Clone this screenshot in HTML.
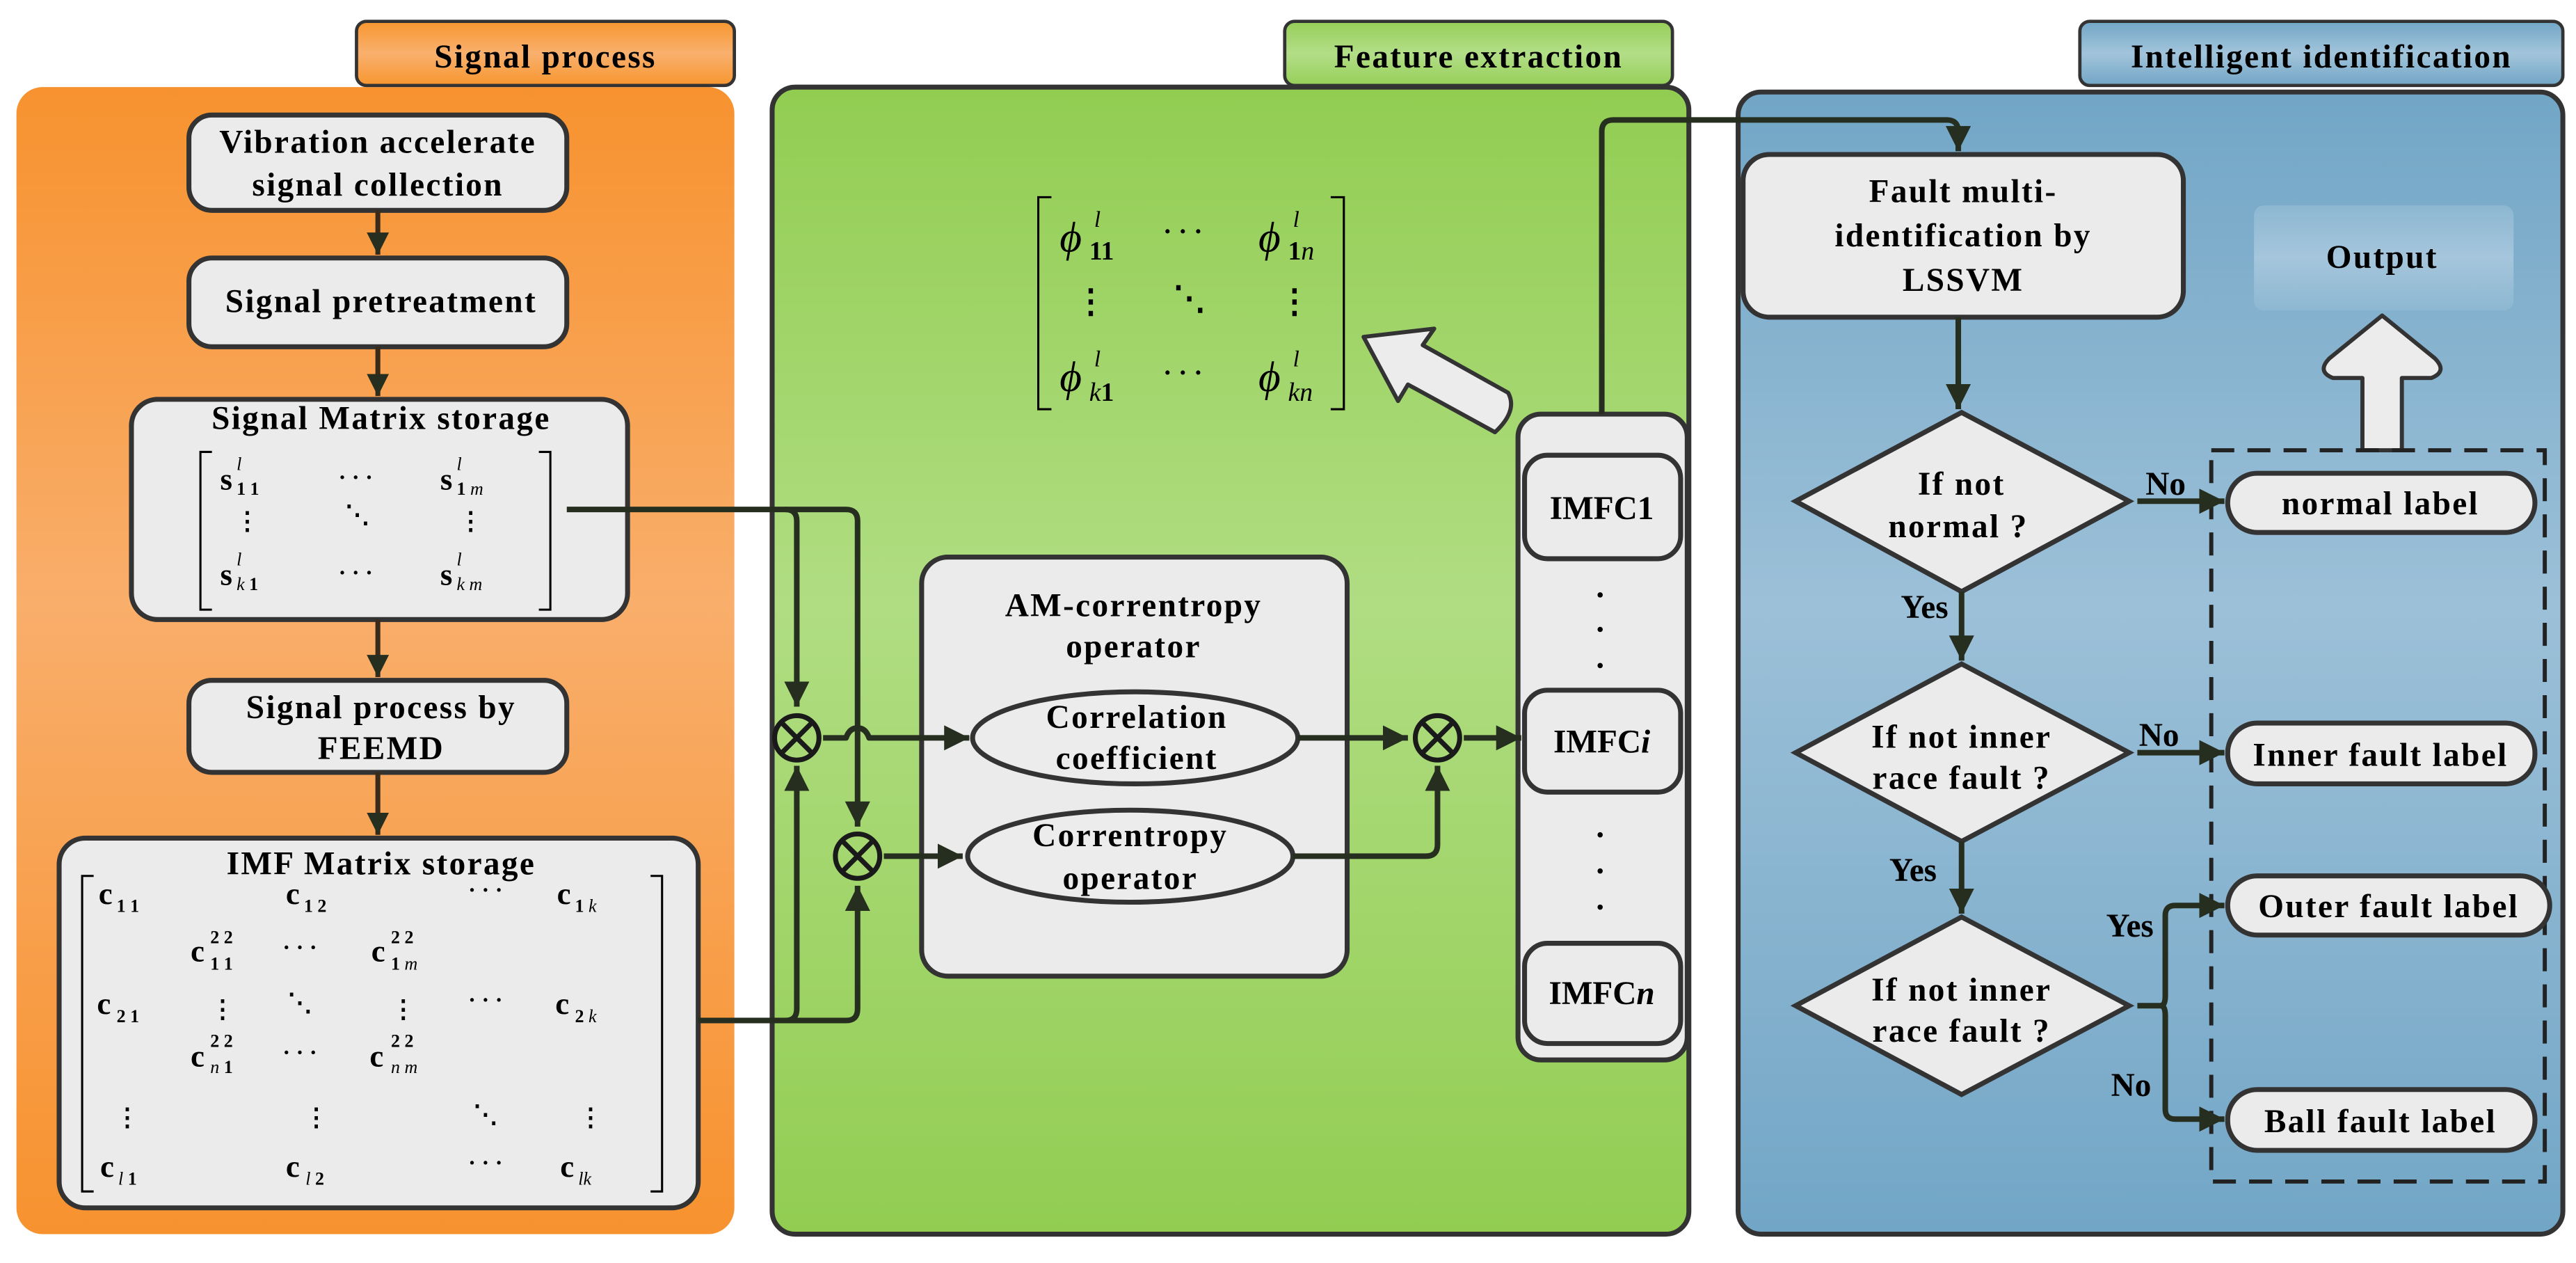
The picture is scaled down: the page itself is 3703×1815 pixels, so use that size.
<!DOCTYPE html>
<html><head><meta charset="utf-8"><style>
html,body{margin:0;padding:0;background:#fff;}
svg{display:block;font-family:"Liberation Serif","Times New Roman",serif;}
svg text{font-family:"Liberation Serif","Times New Roman",serif;font-weight:bold;fill:#000;}
svg .i{font-style:italic;font-weight:normal;}
</style></head><body>
<svg width="3703" height="1815" viewBox="0 0 1568 768.55" preserveAspectRatio="none" xmlns="http://www.w3.org/2000/svg" font-family="Liberation Serif, serif">
<defs>
<linearGradient id="og" x1="0" y1="0" x2="0" y2="1">
<stop offset="0" stop-color="#f7922f"/><stop offset="0.45" stop-color="#f9ae6b"/><stop offset="1" stop-color="#f7922f"/></linearGradient>
<linearGradient id="otab" x1="0" y1="0" x2="0" y2="1">
<stop offset="0" stop-color="#f7962f"/><stop offset="0.5" stop-color="#f9b06e"/><stop offset="1" stop-color="#f7962f"/></linearGradient>
<linearGradient id="gg" x1="0" y1="0" x2="0" y2="1">
<stop offset="0" stop-color="#92cd52"/><stop offset="0.45" stop-color="#b0dd82"/><stop offset="1" stop-color="#92cd52"/></linearGradient>
<linearGradient id="gtab" x1="0" y1="0" x2="0" y2="1">
<stop offset="0" stop-color="#96cf58"/><stop offset="0.5" stop-color="#b3de88"/><stop offset="1" stop-color="#96cf58"/></linearGradient>
<linearGradient id="bg" x1="0" y1="0" x2="0" y2="1">
<stop offset="0" stop-color="#72a6c6"/><stop offset="0.45" stop-color="#9cc0d8"/><stop offset="1" stop-color="#72a6c6"/></linearGradient>
<linearGradient id="btab" x1="0" y1="0" x2="0" y2="1">
<stop offset="0" stop-color="#72a6c6"/><stop offset="0.5" stop-color="#a2c4db"/><stop offset="1" stop-color="#72a6c6"/></linearGradient>
<linearGradient id="outg" x1="0" y1="0" x2="0" y2="1">
<stop offset="0" stop-color="#8db7d2"/><stop offset="0.5" stop-color="#a5c6dc"/><stop offset="1" stop-color="#8db7d2"/></linearGradient>
<marker id="ar" viewBox="0 0 10 10" refX="10" refY="5" markerWidth="4.5" markerHeight="4.5" orient="auto" markerUnits="strokeWidth">
<path d="M0,0 L10,5 L0,10 z" fill="#262e1f"/></marker>
</defs>

<rect x="10" y="53" width="437" height="698" rx="16" fill="url(#og)"/>
<rect x="217" y="13" width="230" height="39" rx="6" fill="url(#otab)" stroke="#333" stroke-width="2"/>
<text x="332" y="41" font-size="20" text-anchor="middle" letter-spacing="1">Signal process</text>

<rect x="470" y="53" width="558" height="698" rx="14" fill="url(#gg)" stroke="#333" stroke-width="3"/>
<rect x="782" y="13" width="236" height="39" rx="6" fill="url(#gtab)" stroke="#333" stroke-width="2"/>
<text x="900" y="41" font-size="20" text-anchor="middle" letter-spacing="1">Feature extraction</text>

<rect x="1058" y="56" width="502" height="695" rx="14" fill="url(#bg)" stroke="#333" stroke-width="3"/>
<rect x="1266" y="13" width="294" height="39" rx="6" fill="url(#btab)" stroke="#333" stroke-width="2"/>
<text x="1413" y="41" font-size="20" text-anchor="middle" letter-spacing="1">Intelligent identification</text>

<g fill="#ebebeb" stroke="#333" stroke-width="3">
<rect x="115" y="70" width="230" height="58" rx="14"/>
<rect x="115" y="157" width="230" height="54" rx="14"/>
<rect x="80" y="243" width="302" height="134" rx="16"/>
<rect x="115" y="414" width="230" height="56" rx="14"/>
<rect x="36" y="510" width="389" height="225" rx="16"/>
</g>
<text x="230" y="93" font-size="20" text-anchor="middle" letter-spacing="1">Vibration accelerate</text>
<text x="230" y="119" font-size="20" text-anchor="middle" letter-spacing="1">signal collection</text>
<text x="232" y="190" font-size="20" text-anchor="middle" letter-spacing="1">Signal pretreatment</text>
<text x="232" y="261" font-size="20" text-anchor="middle" letter-spacing="1">Signal Matrix storage</text>
<text x="232" y="437" font-size="20" text-anchor="middle" letter-spacing="1">Signal process by</text>
<text x="232" y="462" font-size="20" text-anchor="middle" letter-spacing="1">FEEMD</text>
<text x="232" y="532" font-size="20" text-anchor="middle" letter-spacing="1">IMF Matrix storage</text>

<g stroke="#3a2a1a" stroke-width="3" fill="none" marker-end="url(#ar)">
<line x1="230" y1="128" x2="230" y2="155"/>
<line x1="230" y1="211" x2="230" y2="241"/>
<line x1="230" y1="377" x2="230" y2="412"/>
<line x1="230" y1="470" x2="230" y2="508"/>
</g>

<g stroke="#000" stroke-width="1.3" fill="none">
<path d="M129,275 h-7 v96 h7"/><path d="M328,275 h7 v96 h-7"/>
<path d="M57,533 h-7 v192 h7"/><path d="M396,533 h7 v192 h-7"/>
<path d="M640,120 h-8 v129 h8"/><path d="M810,120 h8 v129 h-8"/>
</g>
<g font-size="19">
<text x="134" y="298">s</text><text x="144" y="286" font-size="11" class="i">l</text><text x="144" y="301" font-size="11" font-weight="normal">1 1</text>
<text x="206" y="295" font-size="14">· · ·</text>
<text x="268" y="298">s</text><text x="278" y="286" font-size="11" class="i">l</text><text x="278" y="301" font-size="11" font-weight="normal">1 <tspan class="i">m</tspan></text>
<text x="143" y="322" font-size="15">⋮</text><text x="210" y="318" font-size="15">⋱</text><text x="279" y="322" font-size="15">⋮</text>
<text x="134" y="356">s</text><text x="144" y="344" font-size="11" class="i">l</text><text x="144" y="359" font-size="11" font-weight="normal"><tspan class="i">k</tspan> 1</text>
<text x="206" y="353" font-size="14">· · ·</text>
<text x="268" y="356">s</text><text x="278" y="344" font-size="11" class="i">l</text><text x="278" y="359" font-size="11" font-weight="normal"><tspan class="i">k m</tspan></text>
</g>

<g font-size="19">
<text x="60" y="550">c</text><text x="71" y="555" font-size="11" font-weight="normal">1 1</text>
<text x="174" y="550">c</text><text x="185" y="555" font-size="11" font-weight="normal">1 2</text>
<text x="285" y="546" font-size="14">· · ·</text>
<text x="339" y="550">c</text><text x="350" y="555" font-size="11" font-weight="normal">1 <tspan class="i">k</tspan></text>
<text x="116" y="585">c</text><text x="128" y="574" font-size="11" font-weight="normal">2 2</text><text x="128" y="590" font-size="11" font-weight="normal">1 1</text>
<text x="172" y="581" font-size="14">· · ·</text>
<text x="226" y="585">c</text><text x="238" y="574" font-size="11" font-weight="normal">2 2</text><text x="238" y="590" font-size="11" font-weight="normal">1 <tspan class="i">m</tspan></text>
<text x="59" y="617">c</text><text x="71" y="622" font-size="11" font-weight="normal">2 1</text>
<text x="128" y="619" font-size="15">⋮</text><text x="175" y="615" font-size="15">⋱</text><text x="238" y="619" font-size="15">⋮</text>
<text x="285" y="613" font-size="14">· · ·</text>
<text x="338" y="617">c</text><text x="350" y="622" font-size="11" font-weight="normal">2 <tspan class="i">k</tspan></text>
<text x="116" y="649">c</text><text x="128" y="637" font-size="11" font-weight="normal">2 2</text><text x="128" y="653" font-size="11" font-weight="normal"><tspan class="i">n</tspan> 1</text>
<text x="172" y="645" font-size="14">· · ·</text>
<text x="225" y="649">c</text><text x="238" y="637" font-size="11" font-weight="normal">2 2</text><text x="238" y="653" font-size="11" font-weight="normal"><tspan class="i">n m</tspan></text>
<text x="70" y="685" font-size="15">⋮</text><text x="185" y="685" font-size="15">⋮</text><text x="288" y="683" font-size="15">⋱</text><text x="352" y="685" font-size="15">⋮</text>
<text x="61" y="716">c</text><text x="72" y="721" font-size="11" font-weight="normal"><tspan class="i">l</tspan> 1</text>
<text x="174" y="716">c</text><text x="186" y="721" font-size="11" font-weight="normal"><tspan class="i">l</tspan> 2</text>
<text x="285" y="712" font-size="14">· · ·</text>
<text x="341" y="716">c</text><text x="352" y="721" font-size="11" font-weight="normal"><tspan class="i">lk</tspan></text>
</g>

<g font-size="26" font-weight="normal">
<text x="645" y="153" class="i">ϕ</text><text x="666" y="138" font-size="14" class="i">l</text><text x="663" y="158" font-size="16" font-weight="normal">11</text>
<text x="708" y="146" font-size="16" font-weight="normal">· · ·</text>
<text x="766" y="153" class="i">ϕ</text><text x="787" y="138" font-size="14" class="i">l</text><text x="784" y="158" font-size="16" font-weight="normal">1<tspan class="i">n</tspan></text>
<text x="654" y="190" font-size="20">⋮</text><text x="714" y="188" font-size="20">⋱</text><text x="778" y="190" font-size="20">⋮</text>
<text x="645" y="238" class="i">ϕ</text><text x="666" y="223" font-size="14" class="i">l</text><text x="663" y="244" font-size="16" font-weight="normal"><tspan class="i">k</tspan>1</text>
<text x="708" y="232" font-size="16" font-weight="normal">· · ·</text>
<text x="766" y="238" class="i">ϕ</text><text x="787" y="223" font-size="14" class="i">l</text><text x="784" y="244" font-size="16" font-weight="normal"><tspan class="i">kn</tspan></text>
</g>

<path d="M910,263 L857,234 L851,244 L830,205 L873,200 L866,210 L918,239 Q924,250 910,263 z" fill="#ececec" stroke="#333" stroke-width="2.5" stroke-linejoin="round"/>

<rect x="561" y="339" width="259" height="255" rx="16" fill="#ebebeb" stroke="#333" stroke-width="3"/>
<text x="690" y="375" font-size="20" text-anchor="middle" letter-spacing="1">AM-correntropy</text>
<text x="690" y="400" font-size="20" text-anchor="middle" letter-spacing="1">operator</text>
<ellipse cx="691" cy="449" rx="99" ry="28" fill="#ececec" stroke="#333" stroke-width="3"/>
<text x="692" y="443" font-size="20" text-anchor="middle" letter-spacing="1">Correlation</text>
<text x="692" y="468" font-size="20" text-anchor="middle" letter-spacing="1">coefficient</text>
<ellipse cx="688" cy="521" rx="99" ry="28" fill="#ececec" stroke="#333" stroke-width="3"/>
<text x="688" y="515" font-size="20" text-anchor="middle" letter-spacing="1">Correntropy</text>
<text x="688" y="541" font-size="20" text-anchor="middle" letter-spacing="1">operator</text>

<rect x="924" y="252" width="103" height="393" rx="14" fill="#ebebeb" stroke="#333" stroke-width="3"/>
<g fill="#ebebeb" stroke="#333" stroke-width="3">
<rect x="928" y="277" width="95" height="63" rx="14"/>
<rect x="928" y="420" width="95" height="62" rx="14"/>
<rect x="928" y="574" width="95" height="61" rx="14"/>
</g>
<text x="975" y="316" font-size="20" text-anchor="middle">IMFC1</text>
<text x="975" y="458" font-size="20" text-anchor="middle">IMFC<tspan font-style="italic">i</tspan></text>
<text x="975" y="611" font-size="20" text-anchor="middle">IMFC<tspan font-style="italic">n</tspan></text>
<g fill="#000">
<circle cx="974" cy="362" r="1.6"/><circle cx="974" cy="383" r="1.6"/><circle cx="974" cy="405" r="1.6"/>
<circle cx="974" cy="508" r="1.6"/><circle cx="974" cy="530" r="1.6"/><circle cx="974" cy="552" r="1.6"/>
</g>

<g stroke="#262e1f" stroke-width="3.4" fill="none" stroke-linejoin="round">
<path d="M345,310 H478 Q485,310 485,317 V430" marker-end="url(#ar)"/>
<path d="M478,310 H515 Q522,310 522,317 V503" marker-end="url(#ar)"/>
<path d="M425,621 H478 Q485,621 485,614 V466" marker-end="url(#ar)"/>
<path d="M478,621 H515 Q522,621 522,614 V539" marker-end="url(#ar)"/>
<path d="M501,449 H515 Q517,443 522,443 Q527,443 529,449 H590" marker-end="url(#ar)"/>
<path d="M538,521 H586" marker-end="url(#ar)"/>
<path d="M790,449 H857" marker-end="url(#ar)"/>
<path d="M787,521 H868 Q875,521 875,514 V466" marker-end="url(#ar)"/>
<path d="M891,449 H926" marker-end="url(#ar)"/>
<path d="M975,252 V80 Q975,73 982,73 H1185 Q1192,73 1192,80 V92" marker-end="url(#ar)"/>
</g>
<g fill="none" stroke="#1a1a1a" stroke-width="3">
<circle cx="485" cy="449" r="13.5"/><path d="M475.5,439.5 L494.5,458.5 M494.5,439.5 L475.5,458.5"/>
<circle cx="522" cy="521" r="13.5"/><path d="M512.5,511.5 L531.5,530.5 M531.5,511.5 L512.5,530.5"/>
<circle cx="875" cy="449" r="13.5"/><path d="M865.5,439.5 L884.5,458.5 M884.5,439.5 L865.5,458.5"/>
</g>

<rect x="1061" y="94" width="268" height="99" rx="16" fill="#ebebeb" stroke="#333" stroke-width="3"/>
<text x="1195" y="123" font-size="20" text-anchor="middle" letter-spacing="1">Fault multi-</text>
<text x="1195" y="150" font-size="20" text-anchor="middle" letter-spacing="1">identification by</text>
<text x="1195" y="177" font-size="20" text-anchor="middle" letter-spacing="1">LSSVM</text>

<rect x="1372" y="125" width="158" height="64" rx="6" fill="url(#outg)"/>
<text x="1450" y="163" font-size="20" text-anchor="middle" letter-spacing="1">Output</text>
<path d="M1438,274 V230 H1420 Q1410,226 1418,218 L1450,192 L1482,218 Q1490,226 1480,230 H1462 V274 z" fill="#ececec" stroke="#333" stroke-width="2.5" stroke-linejoin="round"/>

<rect x="1346" y="274" width="203" height="445" fill="none" stroke="#222" stroke-width="2.5" stroke-dasharray="14,8"/>

<g fill="#ebebeb" stroke="#333" stroke-width="3">
<polygon points="1194,251 1296,305 1194,360 1093,305"/>
<polygon points="1194,404 1296,458 1194,512 1093,458"/>
<polygon points="1194,558 1296,612 1194,666 1093,612"/>
</g>
<text x="1194" y="301" font-size="20" text-anchor="middle" letter-spacing="1">If not</text>
<text x="1192" y="327" font-size="20" text-anchor="middle" letter-spacing="1">normal ?</text>
<text x="1194" y="455" font-size="20" text-anchor="middle" letter-spacing="1">If not inner</text>
<text x="1194" y="480" font-size="20" text-anchor="middle" letter-spacing="1">race fault ?</text>
<text x="1194" y="609" font-size="20" text-anchor="middle" letter-spacing="1">If not inner</text>
<text x="1194" y="634" font-size="20" text-anchor="middle" letter-spacing="1">race fault ?</text>

<g fill="#ebebeb" stroke="#333" stroke-width="3">
<rect x="1356" y="288" width="187" height="36" rx="18"/>
<rect x="1356" y="440" width="187" height="37" rx="18"/>
<rect x="1356" y="533" width="196" height="36" rx="18"/>
<rect x="1356" y="663" width="187" height="37" rx="18"/>
</g>
<text x="1449" y="313" font-size="20" text-anchor="middle" letter-spacing="1">normal  label</text>
<text x="1449" y="466" font-size="20" text-anchor="middle" letter-spacing="1">Inner fault label</text>
<text x="1454" y="558" font-size="20" text-anchor="middle" letter-spacing="1">Outer fault label</text>
<text x="1449" y="689" font-size="20" text-anchor="middle" letter-spacing="1">Ball fault label</text>

<g stroke="#262e1f" stroke-width="3.4" fill="none" stroke-linejoin="round">
<path d="M1192,193 V249" marker-end="url(#ar)"/>
<path d="M1194,360 V402" marker-end="url(#ar)"/>
<path d="M1194,512 V556" marker-end="url(#ar)"/>
<path d="M1301,305 H1354" marker-end="url(#ar)"/>
<path d="M1301,458 H1354" marker-end="url(#ar)"/>
<path d="M1301,612 H1315 Q1318,612 1318,606 V557 Q1318,551 1324,551 H1354" marker-end="url(#ar)"/>
<path d="M1315,612 Q1318,612 1318,618 V675 Q1318,681 1324,681 H1354" marker-end="url(#ar)"/>
</g>
<g font-size="20">
<text x="1306" y="301">No</text>
<text x="1157" y="376">Yes</text>
<text x="1302" y="454">No</text>
<text x="1150" y="536">Yes</text>
<text x="1282" y="570">Yes</text>
<text x="1285" y="667">No</text>
</g>
</svg>
</body></html>
